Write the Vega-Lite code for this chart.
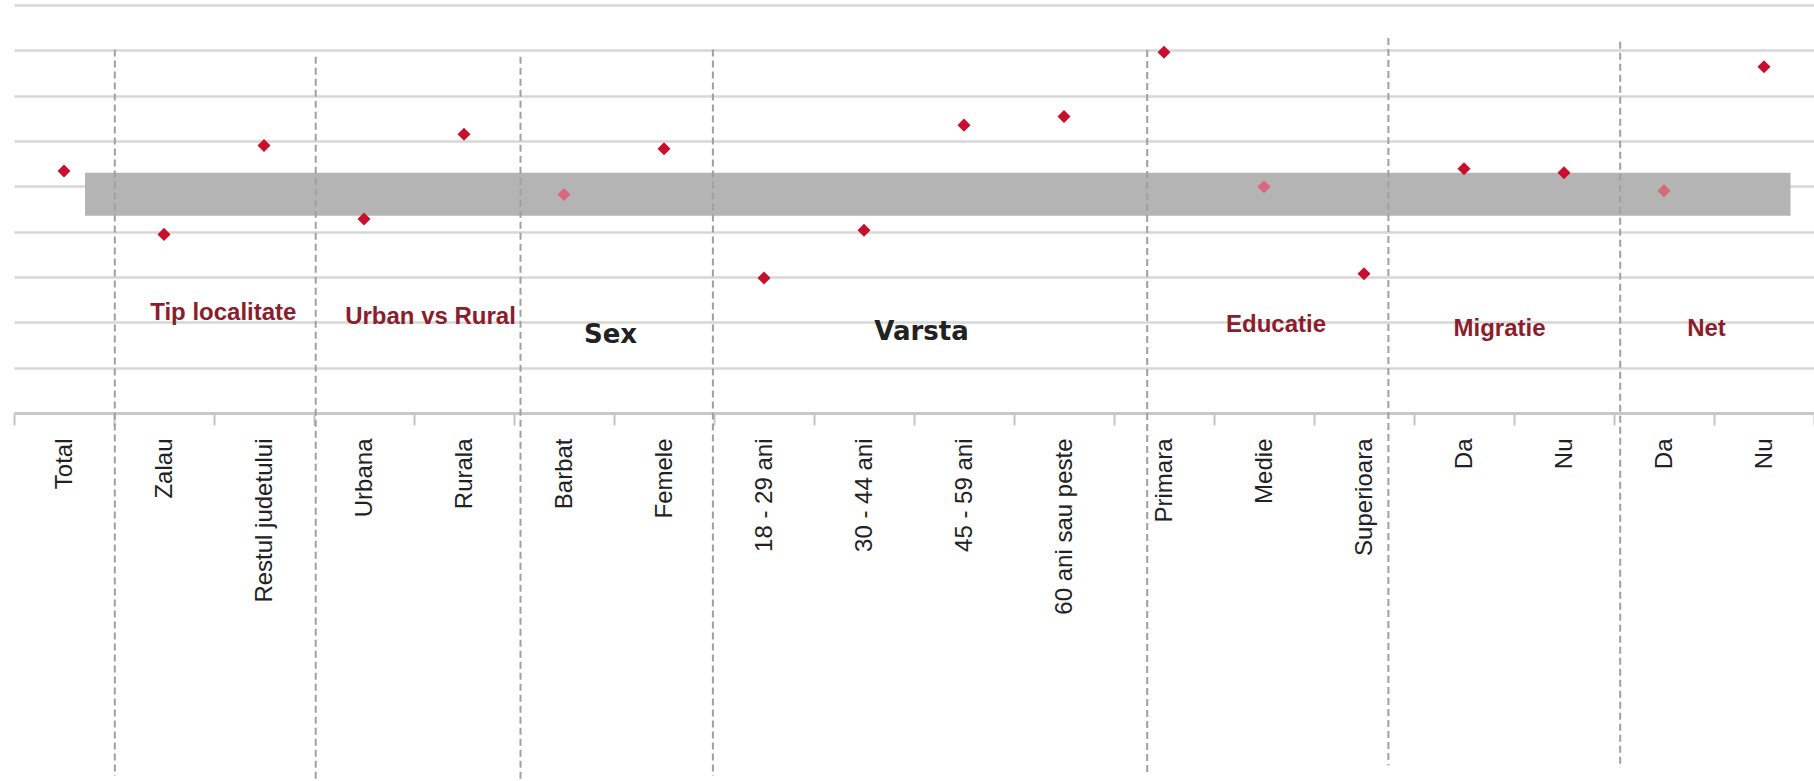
{
  "$schema": "https://vega.github.io/schema/vega-lite/v6.json",
  "width": 1800,
  "height": 408,
  "autosize": {"type": "none"},
  "padding": {"left": 14, "top": 5, "right": 0, "bottom": 368},
  "background": "white",
  "config": {
    "view": {"stroke": null},
    "axisY": {"grid": true, "gridColor": "#d7d7d7", "gridWidth": 2.5, "labels": false, "ticks": false, "domain": false}
  },
  "resolve": {"scale": {"x": "independent"}},
  "layer": [
    {
      "data": {"values": [{"start": 0.71, "end": 17.765, "lo": 43.5, "hi": 53.0}]},
      "mark": {"type": "rect", "color": "#b4b4b4"},
      "encoding": {
        "x": {"field": "start", "type": "quantitative", "scale": {"domain": [0, 18], "nice": false, "zero": false}, "axis": null},
        "x2": {"field": "end"},
        "y": {"field": "lo", "type": "quantitative", "scale": {"domain": [0, 90], "nice": false}, "title": null, "axis": {"values": [0, 10, 20, 30, 40, 50, 60, 70, 80, 90]}},
        "y2": {"field": "hi"}
      }
    },
    {
      "data": {"values": [
        {"u": 1.008, "top": 80.2, "bot": -80.1},
        {"u": 3.017, "top": 78.6, "bot": -82},
        {"u": 5.065, "top": 78.6, "bot": -82},
        {"u": 6.989, "top": 80.2, "bot": -80.1},
        {"u": 11.332, "top": 80.1, "bot": -80.1},
        {"u": 13.744, "top": 82.7, "bot": -77.7},
        {"u": 16.062, "top": 81.9, "bot": -78.3}
      ]},
      "mark": {"type": "rule", "color": "#a0a0a0", "strokeWidth": 2, "strokeDash": [7, 4], "clip": false},
      "encoding": {
        "x": {"field": "u", "type": "quantitative", "scale": {"domain": [0, 18], "nice": false, "zero": false}, "axis": null},
        "y": {"field": "top", "type": "quantitative", "scale": {"domain": [0, 90], "nice": false}, "title": null, "axis": {"values": [0, 10, 20, 30, 40, 50, 60, 70, 80, 90]}},
        "y2": {"field": "bot"}
      }
    },
    {
      "data": {"values": [
        {"grupa": "Tip localitate", "u": 2.093, "v": 20.5},
        {"grupa": "Urban vs Rural", "u": 4.165, "v": 19.6},
        {"grupa": "Educatie", "u": 12.62, "v": 17.9},
        {"grupa": "Migratie", "u": 14.855, "v": 17.0},
        {"grupa": "Net", "u": 16.925, "v": 17.0}
      ]},
      "mark": {"type": "text", "font": "Liberation Sans", "fontWeight": "bold", "fontSize": 24, "color": "#8b1d2c", "align": "center", "baseline": "alphabetic"},
      "encoding": {
        "x": {"field": "u", "type": "quantitative", "scale": {"domain": [0, 18], "nice": false, "zero": false}, "axis": null},
        "y": {"field": "v", "type": "quantitative", "scale": {"domain": [0, 90], "nice": false}, "title": null, "axis": {"values": [0, 10, 20, 30, 40, 50, 60, 70, 80, 90]}},
        "text": {"field": "grupa"}
      }
    },
    {
      "data": {"values": [
        {"grupa": "Sex", "u": 5.965, "v": 15.4},
        {"grupa": "Varsta", "u": 9.075, "v": 16.1}
      ]},
      "mark": {"type": "text", "font": "DejaVu Sans", "fontWeight": "bold", "fontSize": 26, "color": "#222222", "align": "center", "baseline": "alphabetic"},
      "encoding": {
        "x": {"field": "u", "type": "quantitative", "scale": {"domain": [0, 18], "nice": false, "zero": false}, "axis": null},
        "y": {"field": "v", "type": "quantitative", "scale": {"domain": [0, 90], "nice": false}, "title": null, "axis": {"values": [0, 10, 20, 30, 40, 50, 60, 70, 80, 90]}},
        "text": {"field": "grupa"}
      }
    },
    {
      "data": {"values": [
        {"cat": "Total", "val": 53.4, "sig": "da"},
        {"cat": "Zalau", "val": 39.4, "sig": "da"},
        {"cat": "Restul judetului", "val": 59.0, "sig": "da"},
        {"cat": "Urbana", "val": 42.8, "sig": "da"},
        {"cat": "Rurala", "val": 61.5, "sig": "da"},
        {"cat": "Barbat", "val": 48.2, "sig": "nu"},
        {"cat": "Femele", "val": 58.3, "sig": "da"},
        {"cat": "18 - 29 ani", "val": 29.8, "sig": "da"},
        {"cat": "30 - 44 ani", "val": 40.3, "sig": "da"},
        {"cat": "45 - 59 ani", "val": 63.5, "sig": "da"},
        {"cat": "60 ani sau peste", "val": 65.4, "sig": "da"},
        {"cat": "Primara", "val": 79.6, "sig": "da"},
        {"cat": "Medie", "val": 49.9, "sig": "nu"},
        {"cat": "Superioara", "val": 30.7, "sig": "da"},
        {"cat": "Da|migratie", "val": 53.9, "sig": "da"},
        {"cat": "Nu|migratie", "val": 53.0, "sig": "da"},
        {"cat": "Da|net", "val": 49.0, "sig": "nu"},
        {"cat": "Nu|net", "val": 76.4, "sig": "da"}
      ]},
      "mark": {"type": "point", "shape": "diamond", "filled": true, "size": 170, "opacity": 1},
      "encoding": {
        "x": {
          "field": "cat", "type": "nominal", "sort": null,
          "scale": {"type": "band", "paddingInner": 0, "paddingOuter": 0},
          "title": null,
          "axis": {
            "tickBand": "extent", "labelAngle": -90, "labelFont": "Liberation Sans", "labelFontSize": 24,
            "labelColor": "#222222", "labelLimit": 300, "labelPadding": 13, "tickSize": 12,
            "tickColor": "#c4c4c4", "tickWidth": 2, "domainColor": "#c8c8c8", "domainWidth": 3,
            "grid": false, "labelExpr": "isValid(datum.value) ? split(datum.value, '|')[0] : ''"
          }
        },
        "y": {"field": "val", "type": "quantitative", "scale": {"domain": [0, 90], "nice": false}, "title": null, "axis": {"values": [0, 10, 20, 30, 40, 50, 60, 70, 80, 90]}},
        "color": {"field": "sig", "type": "nominal", "scale": {"domain": ["da", "nu"], "range": ["#c8102e", "#d9687a"]}, "legend": null}
      }
    }
  ]
}
